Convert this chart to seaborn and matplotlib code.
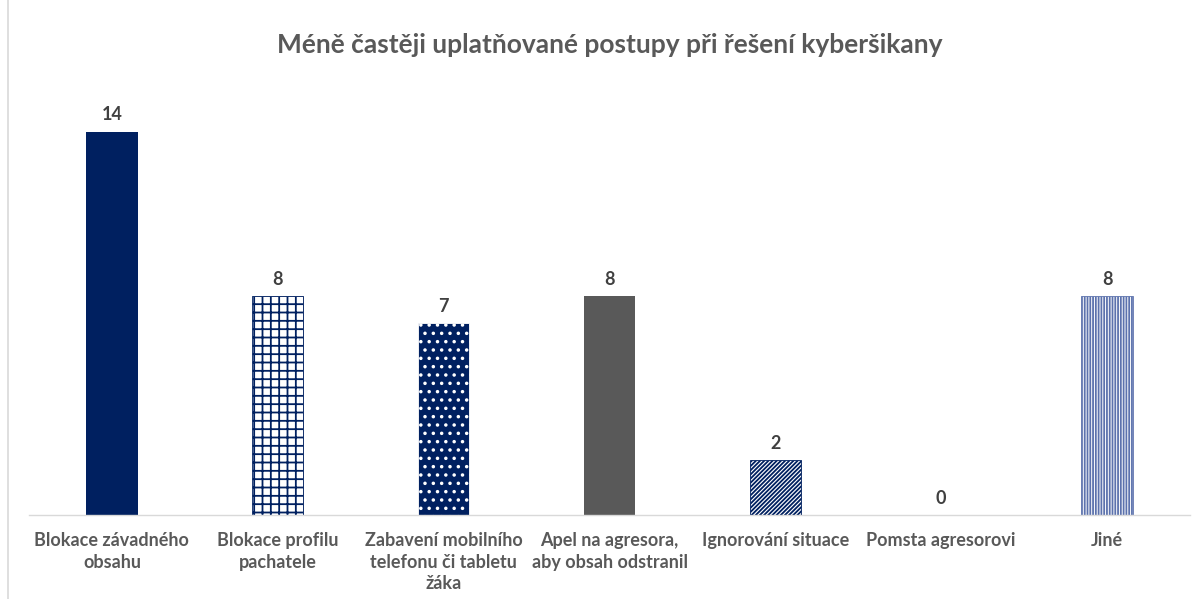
import matplotlib
matplotlib.use('Agg')
import matplotlib.pyplot as plt
import seaborn as sns
import pandas as pd

# Data
categories = [
    'Blokace závadného\nobsahu',
    'Blokace profilu\npachatele',
    'Zabavení mobilního\ntelefonu či tabletu\nžáka',
    'Apel na agresora,\naby obsah odstranil',
    'Ignorování situace',
    'Pomsta agresorovi',
    'Jiné',
]
counts = [14, 8, 7, 8, 2, 0, 8]
title = 'Méně častěji uplatňované postupy při řešení kyberšikany'

navy = '#002060'
text_grey = '#595959'

# face colour, hatch colour, hatch pattern for each bar
faces = [navy, 'white', navy, '#595959', 'white', navy, 'white']
hatch_cols = [navy, navy, 'white', '#595959', navy, navy, '#5c72ad']
hatches = ['', '++', '..', '', '////////', '', '||||||']

sns.set_theme(style='white')
plt.rcParams['font.family'] = ['Lato', 'DejaVu Sans']
plt.rcParams['hatch.linewidth'] = 1.3

df = pd.DataFrame({'postup': categories, 'pocet': counts})

fig = plt.figure(figsize=(11.98, 5.99), dpi=100)
ax = fig.add_axes([29 / 1198, 84 / 599, 1161 / 1198, 438 / 599])

sns.barplot(data=df, x='postup', y='pocet', hue='postup', palette=faces,
            width=0.31, legend=False, ax=ax, saturation=1)

for patch, fc, hc, h in zip(ax.patches, faces, hatch_cols, hatches):
    patch.set_facecolor(fc)
    patch.set_edgecolor(hc)
    patch.set_hatch(h)
    patch.set_linewidth(0.6 if h else 0)

for cont in ax.containers:
    ax.bar_label(cont, fmt='%d', padding=6, fontsize=13, fontweight='bold',
                 color='#404040')

ax.set_ylim(0, 16)
ax.set_yticks([])
ax.set_xlabel('')
ax.set_ylabel('')
ax.tick_params(axis='x', length=0, pad=12)
ax.set_xticks(range(len(categories)))
ax.set_xticklabels(categories, fontsize=13, fontweight='bold', color=text_grey,
                   linespacing=1.35, va='top')
for side in ['left', 'right', 'top']:
    ax.spines[side].set_visible(False)
ax.spines['bottom'].set_color('#d9d9d9')
ax.spines['bottom'].set_linewidth(1)

fig.text(609.5 / 1198, 1 - 45 / 599, title, ha='center', va='center',
         fontsize=19, fontweight='bold', color=text_grey)

# light chart-area border on the left
fig.add_artist(plt.Line2D([8 / 1198, 8 / 1198], [0, 1], color='#d9d9d9', lw=1.2))

fig.savefig('out.png', dpi=100, facecolor='white')
